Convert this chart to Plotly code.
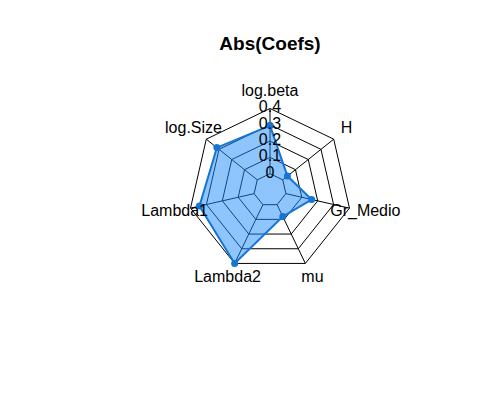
import plotly.graph_objects as go

categories = ["log.beta", "H", "Gr_Medio", "mu", "Lambda2", "Lambda1", "log.Size"]
values = [0.295, 0.037, 0.162, 0.081, 0.40, 0.344, 0.317]
tick_vals = [0, 0.1, 0.2, 0.3, 0.4]
tick_text = ["0", "0.1", "0.2", "0.3", "0.4"]
axis_min = 0.0
axis_max = 0.4
label_radius = 0.5
radial_range = [-0.1, 0.8]
title_text = "Abs(Coefs)"

font_family = "Liberation Sans, Arial, Helvetica, sans-serif"

fig = go.Figure()

# spokes from the innermost level to the outer level
for cat in categories:
    fig.add_trace(go.Scatterpolar(
        r=[axis_min, axis_max], theta=[cat, cat], mode="lines",
        line=dict(color="black", width=1),
        cliponaxis=True,
        hoverinfo="skip", showlegend=False,
    ))

fig.add_trace(go.Scatterpolar(
    r=values + [values[0]],
    theta=categories + [categories[0]],
    mode="lines+markers",
    fill="toself",
    fillcolor="rgba(30,140,250,0.5)",
    line=dict(color="rgb(22,117,212)", width=2),
    marker=dict(color="rgb(22,117,212)", size=7),
    cliponaxis=True,
    hoverinfo="skip",
    showlegend=False,
))

# radial tick labels along the first axis
fig.add_trace(go.Scatterpolar(
    r=tick_vals,
    theta=[categories[0]] * len(tick_vals),
    mode="text",
    text=tick_text,
    textposition="middle center",
    textfont=dict(family=font_family, size=16, color="black"),
    cliponaxis=True,
    showlegend=False,
    hoverinfo="skip",
))

# variable labels outside the web
fig.add_trace(go.Scatterpolar(
    r=[label_radius] * len(categories),
    theta=categories,
    mode="text",
    text=categories,
    textposition="middle center",
    textfont=dict(family=font_family, size=16, color="black"),
    cliponaxis=True,
    showlegend=False,
    hoverinfo="skip",
))

fig.update_layout(
    width=500, height=400,
    margin=dict(l=0, r=0, t=0, b=0),
    paper_bgcolor="white",
    plot_bgcolor="white",
    font=dict(family=font_family, size=16, color="black"),
    title=dict(text="<b>" + title_text + "</b>", x=0.524, xanchor="center",
               y=0.9125, yanchor="middle",
               font=dict(family=font_family, size=19, color="black")),
    polar=dict(
        domain=dict(x=[0.2306, 0.8174], y=[0.17825, 0.91175]),
        bgcolor="rgba(0,0,0,0)",
        gridshape="linear",
        radialaxis=dict(
            range=radial_range, tickvals=tick_vals, showticklabels=False,
            ticks="", showline=False, gridcolor="black", gridwidth=1,
        ),
        angularaxis=dict(
            direction="clockwise", rotation=90,
            categoryorder="array", categoryarray=categories,
            showticklabels=False, ticks="",
            showline=False, showgrid=False,
        ),
    ),
)

fig.write_html("out.html")
